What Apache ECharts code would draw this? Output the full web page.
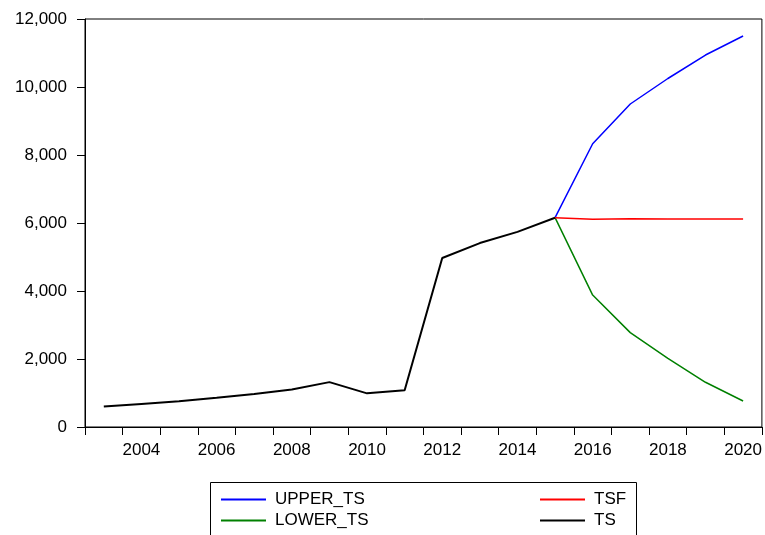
<!DOCTYPE html>
<html><head><meta charset="utf-8">
<script src="https://cdn.jsdelivr.net/npm/echarts@6/dist/echarts.min.js"></script>
<style>html,body{margin:0;padding:0;background:#fff}#c{width:765px;height:535px}</style>
</head><body><div id="c"></div>
<script>
const years = ['2003','2004','2005','2006','2007','2008','2009','2010','2011','2012','2013','2014','2015','2016','2017','2018','2019','2020'];
const ts      = [600, 680, 760, 860, 970, 1100, 1320, 990, 1080, 4970, 5410, 5740, 6156, null, null, null, null, null];
const tsf     = [null, null, null, null, null, null, null, null, null, null, null, null, 6156, 6110, 6125, 6115, 6120, 6118];
const upperTs = [null, null, null, null, null, null, null, null, null, null, null, null, 6156, 8330, 9500, 10250, 10940, 11500];
const lowerTs = [null, null, null, null, null, null, null, null, null, null, null, null, 6156, 3880, 2775, 2020, 1315, 765];
const yTicks = [0, 2000, 4000, 6000, 8000, 10000, 12000];

const font = 'Arial, "Liberation Sans", sans-serif';
const chart = echarts.init(document.getElementById('c'), null, {renderer: 'canvas'});
const mk = (name, data, color, w, z) => ({
  name, type: 'line', data, symbol: 'none', connectNulls: false, z,
  lineStyle: {color, width: w}, itemStyle: {color}, animation: false
});
const lg = (names, left) => ({
  data: names, orient: 'vertical', left, top: 491, padding: 0, itemGap: 4,
  height: 60, itemWidth: 45, itemHeight: 2, icon: 'rect',
  textStyle: {color: '#000', fontSize: 17, fontFamily: font, padding: [0, 0, 0, 4]}
});
chart.setOption({
  animation: false,
  grid: {left: 85, right: 3, top: 19, bottom: 108, show: true, borderColor: '#000', borderWidth: 1},
  xAxis: {
    type: 'category', data: years, boundaryGap: true,
    axisLine: {lineStyle: {color: '#000', width: 1}},
    axisTick: {show: true, length: 8, interval: 0, lineStyle: {color: '#000'}},
    axisLabel: {color: '#000', fontSize: 17, fontFamily: font, margin: 15,
      interval: (i) => i % 2 === 1}
  },
  yAxis: {
    type: 'value', min: yTicks[0], max: yTicks[yTicks.length - 1], interval: 2000,
    splitLine: {show: false},
    axisLine: {show: true, lineStyle: {color: '#000', width: 1}},
    axisTick: {show: true, length: 8, lineStyle: {color: '#000'}},
    axisLabel: {color: '#000', fontSize: 17, fontFamily: font, margin: 18,
      formatter: (v) => v.toLocaleString('en-US')}
  },
  legend: [lg(['UPPER_TS', 'LOWER_TS'], 221), lg(['TSF', 'TS'], 540)],
  graphic: [{type: 'rect', shape: {x: 210.5, y: 482.5, width: 426, height: 70},
    style: {fill: 'none', stroke: '#000', lineWidth: 1}, silent: true}],
  series: [
    mk('UPPER_TS', upperTs, '#0000FF', 1.5, 2),
    mk('LOWER_TS', lowerTs, '#008000', 1.5, 2),
    mk('TSF', tsf, '#FF0000', 1.5, 3),
    mk('TS', ts, '#000000', 2, 4)
  ]
});
</script></body></html>
